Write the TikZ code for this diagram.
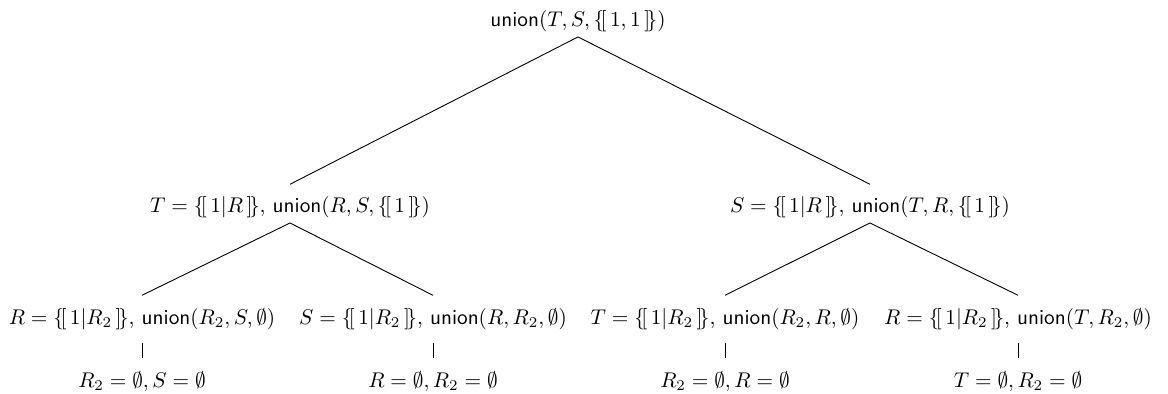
\documentclass[tikz,border=0pt]{standalone}
\usepackage{amsmath,amssymb}
\usetikzlibrary{positioning}
\newcommand{\mset}[1]{\{\![\,#1\,]\!\}}
\newcommand{\un}{\textsf{union}}

\begin{document}
\begin{tikzpicture}[
  tnode/.style={scale=0.945, inner sep=2pt, text height=11.3pt, text depth=2.5pt, anchor=base},
  tedge/.style={thin}]
\useasboundingbox (0,0) rectangle (18.244,6.154);

% Root
\node[tnode] (root) at (9.028,5.733) {$\un(T,S,\mset{1,1})$};

% Level 1
\node[tnode] (l) at (4.530,2.827) {$T=\mset{1|R}$, $\un(R,S,\mset{1})$};
\node[tnode] (r) at (13.589,2.827) {$S=\mset{1|R}$, $\un(T,R,\mset{1})$};

% Level 2
\node[tnode] (ll) at (2.218,1.093) {$R=\mset{1|R_2}$, $\un(R_2,S,\emptyset)$};
\node[tnode] (lr) at (6.763,1.093) {$S=\mset{1|R_2}$, $\un(R,R_2,\emptyset)$};
\node[tnode] (rl) at (11.324,1.093) {$T=\mset{1|R_2}$, $\un(R_2,R,\emptyset)$};
\node[tnode] (rr) at (15.901,1.093) {$R=\mset{1|R_2}$, $\un(T,R_2,\emptyset)$};

% Leaves
\node[tnode] (llb) at (2.218,0.109) {$R_2=\emptyset, S=\emptyset$};
\node[tnode] (lrb) at (6.763,0.109) {$R=\emptyset, R_2=\emptyset$};
\node[tnode] (rlb) at (11.324,0.109) {$R_2=\emptyset, R=\emptyset$};
\node[tnode] (rrb) at (15.901,0.109) {$T=\emptyset, R_2=\emptyset$};

% Edges
\draw[tedge] (root.south) -- (l.north);
\draw[tedge] (root.south) -- (r.north);
\draw[tedge] (l.south) -- (ll.north);
\draw[tedge] (l.south) -- (lr.north);
\draw[tedge] (r.south) -- (rl.north);
\draw[tedge] (r.south) -- (rr.north);
\foreach \a in {ll,lr,rl,rr}
  \draw[tedge, shorten <=4pt] (\a.south) -- (\a b.north);

\end{tikzpicture}
\end{document}
